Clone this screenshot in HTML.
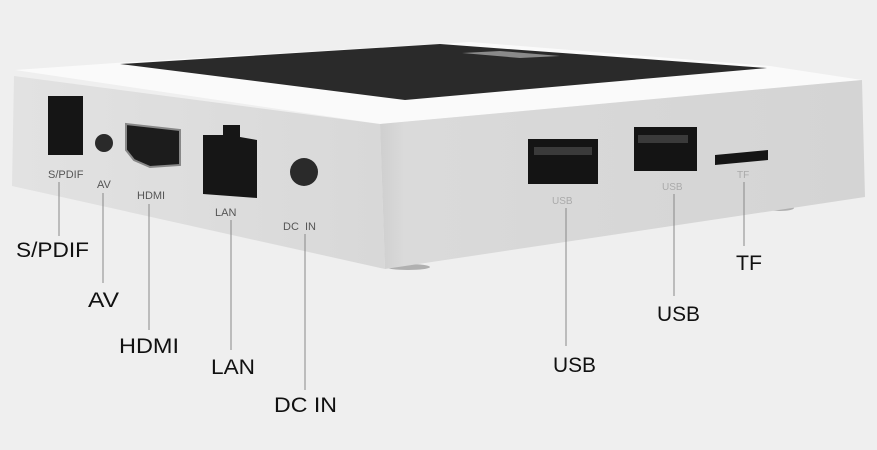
<!DOCTYPE html>
<html><head><style>
html,body{margin:0;padding:0;background:#efefef;}
svg{display:block;}
</style></head><body>
<svg width="877" height="450" viewBox="0 0 877 450" xmlns="http://www.w3.org/2000/svg" font-family="Liberation Sans, sans-serif">
<defs>
<linearGradient id="lf" x1="0" y1="0" x2="1" y2="0"><stop offset="0" stop-color="#e2e2e2"/><stop offset="1" stop-color="#d8d8d8"/></linearGradient>
<linearGradient id="rf" x1="0" y1="0" x2="1" y2="0"><stop offset="0" stop-color="#cfcfcf"/><stop offset="0.05" stop-color="#dadada"/><stop offset="1" stop-color="#d4d4d4"/></linearGradient>
</defs>
<rect width="877" height="450" fill="#efefef"/>
<!-- feet shadows -->
<ellipse cx="408" cy="267" rx="22" ry="3" fill="#b0b0b0"/>
<ellipse cx="780" cy="208" rx="14" ry="3" fill="#b0b0b0"/>
<!-- top face -->
<polygon points="15,70 130,62 470,42 770,66 862,80 380,124" fill="#fafafa"/>
<polygon points="120,64 440,44 767,68 405,100" fill="#2a2a2a"/>
<polygon points="462,53 500,51 560,56 520,58" fill="#8a8a8a"/>
<!-- front left face -->
<polygon points="14,76 380,124 385,269 12,186" fill="url(#lf)"/>
<!-- right face -->
<polygon points="380,124 862,80 865,197 385,269" fill="url(#rf)"/>
<!-- ports left -->
<rect x="48" y="96" width="35" height="59" fill="#151515"/>
<circle cx="104" cy="143" r="9" fill="#2a2a2a"/>
<polygon points="126,124 180,130 180,165 150,167 134,160 126,150" fill="#1c1c1c" stroke="#888" stroke-width="2"/>
<polygon points="203,135 223,135 223,125 240,125 240,137 257,140 257,198 203,194" fill="#161616"/>
<circle cx="304" cy="172" r="14" fill="#2a2a2a"/>
<g fill="#555" font-size="11">
<text x="48" y="178">S/PDIF</text>
<text x="97" y="188">AV</text>
<text x="137" y="199">HDMI</text>
<text x="215" y="216">LAN</text>
<text x="283" y="230">DC&#160;&#160;IN</text>
</g>
<!-- ports right -->
<rect x="528" y="139" width="70" height="45" fill="#141414"/>
<rect x="534" y="147" width="58" height="8" fill="#3a3a3a"/>
<rect x="634" y="127" width="63" height="44" fill="#141414"/>
<rect x="638" y="135" width="50" height="8" fill="#3a3a3a"/>
<polygon points="715,155 768,150 768,160 715,165" fill="#151515"/>
<g fill="#aaa" font-size="10">
<text x="552" y="204">USB</text>
<text x="662" y="190">USB</text>
<text x="737" y="178">TF</text>
</g>
<!-- leader lines -->
<g stroke="#888" stroke-width="1">
<line x1="59" y1="182" x2="59" y2="236"/>
<line x1="103" y1="193" x2="103" y2="283"/>
<line x1="149" y1="204" x2="149" y2="330"/>
<line x1="231" y1="220" x2="231" y2="350"/>
<line x1="305" y1="234" x2="305" y2="390"/>
<line x1="566" y1="208" x2="566" y2="346"/>
<line x1="674" y1="194" x2="674" y2="296"/>
<line x1="744" y1="182" x2="744" y2="246"/>
</g>
<g fill="#111" font-size="21">
<text x="16" y="257" textLength="73" lengthAdjust="spacingAndGlyphs">S/PDIF</text>
<text x="88" y="307" textLength="31" lengthAdjust="spacingAndGlyphs">AV</text>
<text x="119" y="353" textLength="60" lengthAdjust="spacingAndGlyphs">HDMI</text>
<text x="211" y="374" textLength="44" lengthAdjust="spacingAndGlyphs">LAN</text>
<text x="274" y="412" textLength="63" lengthAdjust="spacingAndGlyphs">DC IN</text>
<text x="553" y="372" textLength="43" lengthAdjust="spacingAndGlyphs">USB</text>
<text x="657" y="321" textLength="43" lengthAdjust="spacingAndGlyphs">USB</text>
<text x="736" y="270" textLength="26" lengthAdjust="spacingAndGlyphs">TF</text>
</g>
</svg>
</body></html>
